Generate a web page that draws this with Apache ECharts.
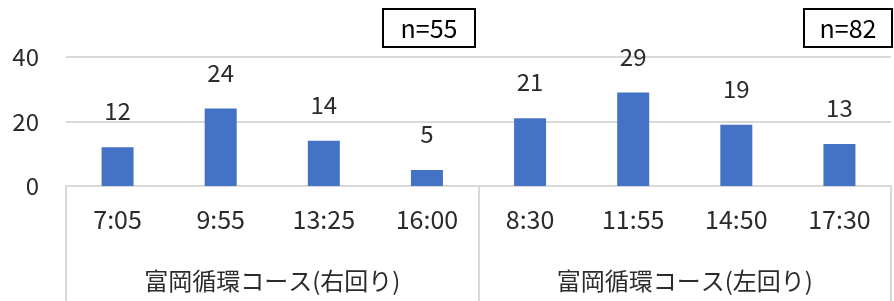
<!DOCTYPE html>
<html>
<head>
<meta charset="utf-8">
<script src="https://cdn.jsdelivr.net/npm/echarts@6/dist/echarts.min.js"></script>
<style>
    html, body { margin: 0; padding: 0; background: #fff; }
    #chart { width: 894px; height: 301px; }
</style>
</head>
<body>
<div id="chart"></div>
<script type="text/javascript">
    // 時刻ごとの値
    var times = ['7:05', '9:55', '13:25', '16:00', '8:30', '11:55', '14:50', '17:30'];
    var counts = [12, 24, 14, 5, 21, 29, 19, 13];
    var groups = ['富岡循環コース(右回り)', '富岡循環コース(左回り)'];
    var nLabels = ['n=55', 'n=82'];
    var yTicks = [0, 20, 40];

    var font = '"Noto Sans CJK JP", "Noto Sans", sans-serif';
    var textColor = '#2b2b2b';
    var gridColor = '#d9d9d9';

    var myChart = echarts.init(document.getElementById('chart'));
    var option = {
        animation: false,
        textStyle: { fontFamily: font },
        grid: { left: 66, right: 3, top: 57, bottom: 115 },
        xAxis: [{
            type: 'category',
            data: times,
            axisLine: { lineStyle: { color: gridColor, width: 2 } },
            axisTick: { show: false },
            axisLabel: { color: textColor, fontSize: 25, margin: 21, fontFamily: font }
        }, {
            type: 'category',
            data: groups,
            position: 'bottom',
            axisLine: { show: false },
            axisTick: { show: true, length: 115, lineStyle: { color: gridColor, width: 2 } },
            axisLabel: { color: textColor, fontSize: 24, margin: 83, fontFamily: font }
        }],
        yAxis: {
            type: 'value',
            min: yTicks[0],
            max: yTicks[yTicks.length - 1],
            interval: 20,
            axisLine: { show: false },
            axisTick: { show: false },
            axisLabel: { color: textColor, fontSize: 24, margin: 27, fontFamily: font },
            splitLine: { lineStyle: { color: gridColor, width: 2 } }
        },
        series: [{
            type: 'bar',
            xAxisIndex: 0,
            data: counts,
            barWidth: 32,
            itemStyle: { color: '#4472c4' },
            label: {
                show: true,
                position: 'top',
                distance: 24,
                color: textColor,
                fontSize: 24,
                fontFamily: font
            }
        }],
        graphic: [{
            type: 'group',
            left: 382, top: 8,
            children: [{
                type: 'rect',
                shape: { x: 0, y: 0, width: 92, height: 38 },
                style: { fill: '#fff', stroke: '#000', lineWidth: 2 }
            }, {
                type: 'text',
                x: 46, y: 19,
                style: { text: nLabels[0], font: '25px ' + font, fill: '#000', align: 'center', verticalAlign: 'middle' }
            }]
        }, {
            type: 'group',
            left: 803, top: 8,
            children: [{
                type: 'rect',
                shape: { x: 0, y: 0, width: 88, height: 38 },
                style: { fill: '#fff', stroke: '#000', lineWidth: 2 }
            }, {
                type: 'text',
                x: 44, y: 19,
                style: { text: nLabels[1], font: '25px ' + font, fill: '#000', align: 'center', verticalAlign: 'middle' }
            }]
        }]
    };
    myChart.setOption(option);
</script>
</body>
</html>
